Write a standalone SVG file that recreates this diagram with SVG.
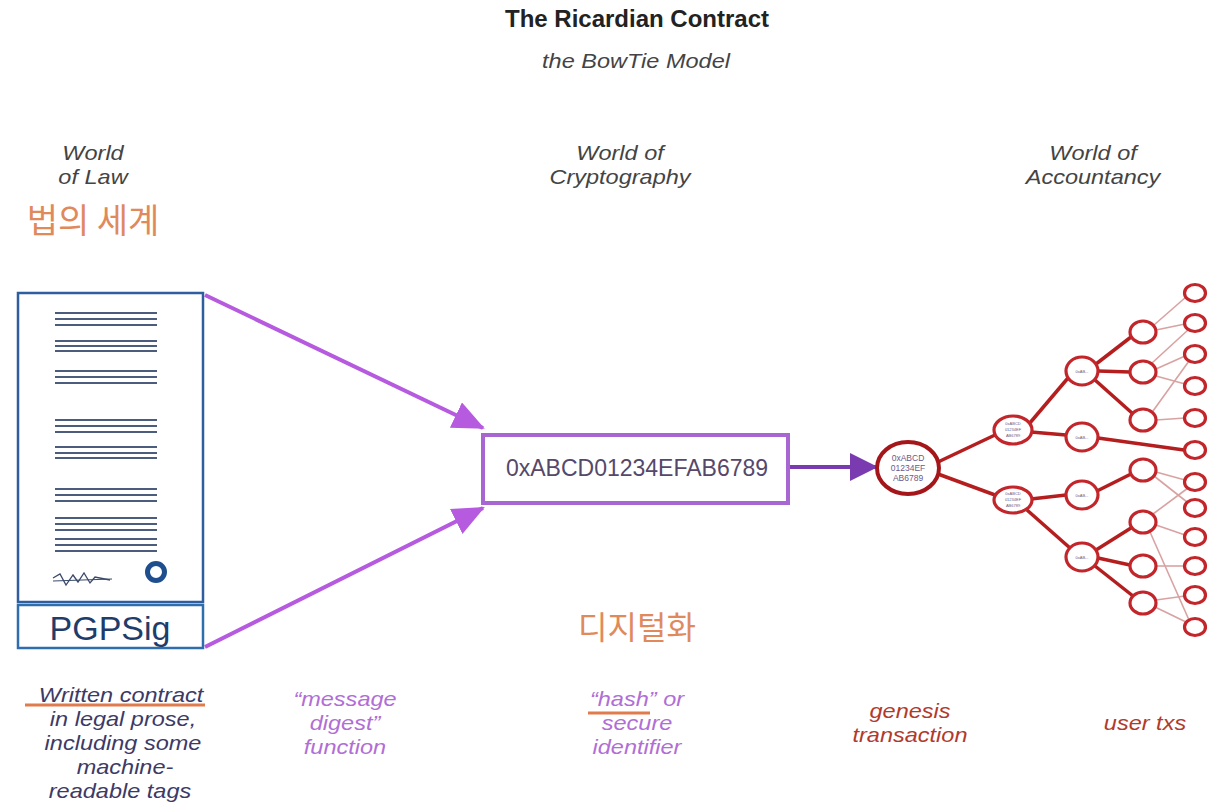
<svg xmlns="http://www.w3.org/2000/svg" width="1228" height="812" viewBox="0 0 1228 812">
<defs>
<marker id="ahV" markerWidth="8" markerHeight="7" refX="7.5" refY="3.5" orient="auto" markerUnits="strokeWidth">
<path d="M0,0 L8,3.5 L0,7 Z" fill="#B65AE0"/>
</marker>
<marker id="ahD" markerWidth="7" markerHeight="7" refX="6.5" refY="3.5" orient="auto" markerUnits="strokeWidth">
<path d="M0,0 L7,3.5 L0,7 Z" fill="#7A3AB0"/>
</marker>
</defs>
<style>
text{font-family:"Liberation Sans",Arial,"Noto Sans CJK KR",sans-serif;text-anchor:middle}
.it{font-style:italic;font-size:21px}
.hdr{fill:#444}
.law{fill:#3C3A66}
.pur{fill:#B06ED6}
.red{fill:#B23A2C}
.kor{font-family:"Noto Sans CJK KR",sans-serif;fill:#E08A5C;font-weight:400}
.docl{stroke:#4C5C7C;stroke-width:2}
.thick{stroke:#B41E1E;stroke-width:3.5;fill:none}
.thin{stroke:#D9A2A2;stroke-width:1.6;fill:none}
.nd{fill:#fff;stroke:#C2252A;stroke-width:3.2}
.tiny{font-size:4px;fill:#6A5A8A}
</style>
<rect width="1228" height="812" fill="#fff"/>

<g id="titles">
<text x="637" y="27" style="font-weight:bold;font-size:24px" fill="#222">The Ricardian Contract</text>
<text class="it" fill="#444" transform="translate(636,68) scale(1.12,1)">the BowTie Model</text>
</g>

<g id="headers">
<text class="it hdr" transform="translate(93,160) scale(1.12,1)">World</text>
<text class="it hdr" transform="translate(93,184) scale(1.12,1)">of Law</text>
<text class="it hdr" transform="translate(620,160) scale(1.12,1)">World of</text>
<text class="it hdr" transform="translate(620,184) scale(1.12,1)">Cryptography</text>
<text class="it hdr" transform="translate(1093,160) scale(1.12,1)">World of</text>
<text class="it hdr" transform="translate(1093,184) scale(1.12,1)">Accountancy</text>
</g>

<g id="annotations">
<text x="93" y="233" class="kor" font-size="34">법의 세계</text>
<text x="637" y="639" class="kor" font-size="32">디지털화</text>
<line x1="25" y1="705" x2="205" y2="705" stroke="#E07B4E" stroke-width="3"/>
<line x1="588" y1="713" x2="650" y2="713" stroke="#E07B4E" stroke-width="3"/>
</g>

<g id="contract">
<rect x="18" y="293" width="185" height="309" fill="#fff" stroke="#2E5E9E" stroke-width="2.5"/>
<g class="docl">
<line x1="55" y1="313" x2="157" y2="313"/><line x1="55" y1="319" x2="157" y2="319"/><line x1="55" y1="325" x2="157" y2="325"/>
<line x1="55" y1="341" x2="157" y2="341"/><line x1="55" y1="346" x2="157" y2="346"/><line x1="55" y1="351" x2="157" y2="351"/>
<line x1="55" y1="371" x2="157" y2="371"/><line x1="55" y1="377" x2="157" y2="377"/><line x1="55" y1="383" x2="157" y2="383"/>
<line x1="55" y1="420" x2="157" y2="420"/><line x1="55" y1="426" x2="157" y2="426"/><line x1="55" y1="432" x2="157" y2="432"/>
<line x1="55" y1="447" x2="157" y2="447"/><line x1="55" y1="453" x2="157" y2="453"/><line x1="55" y1="458" x2="157" y2="458"/>
<line x1="55" y1="489" x2="157" y2="489"/><line x1="55" y1="495" x2="157" y2="495"/><line x1="55" y1="501" x2="157" y2="501"/>
<line x1="55" y1="518" x2="157" y2="518"/><line x1="55" y1="524" x2="157" y2="524"/><line x1="55" y1="530" x2="157" y2="530"/>
<line x1="55" y1="539" x2="157" y2="539"/><line x1="55" y1="545" x2="157" y2="545"/><line x1="55" y1="551" x2="157" y2="551"/>
</g>
<path d="M53,578 L60,574 L66,585 L73,575 L78,582 L84,573 L90,583 L95,577 L110,580" fill="none" stroke="#3A4A6A" stroke-width="1.3"/>
<line x1="53" y1="581" x2="112" y2="579" stroke="#3A4A6A" stroke-width="1"/>
<circle cx="156" cy="572" r="8.5" fill="#fff" stroke="#1E4E8E" stroke-width="5"/>
</g>

<g id="pgpsig">
<rect x="18" y="605" width="185" height="43" fill="#fff" stroke="#2E6EAE" stroke-width="2.5"/>
<text x="110" y="640" font-size="34" fill="#1F3D6B">PGPSig</text>
</g>

<g id="hash">
<rect x="483" y="435" width="305" height="68" fill="#fff" stroke="#A866D2" stroke-width="4"/>
<text x="637" y="476" font-size="23" fill="#55486A">0xABCD01234EFAB6789</text>
</g>

<g id="connectors">
<line x1="205" y1="295" x2="483" y2="428" stroke="#B65AE0" stroke-width="4" marker-end="url(#ahV)"/>
<line x1="205" y1="647" x2="483" y2="508" stroke="#B65AE0" stroke-width="4" marker-end="url(#ahV)"/>
<line x1="790" y1="467" x2="876" y2="467" stroke="#7A3AB0" stroke-width="4" marker-end="url(#ahD)"/>
<g id="tree-edges">
<line class="thick" x1="938" y1="462" x2="995" y2="435"/>
<line class="thick" x1="938" y1="474" x2="995" y2="495"/>
<line class="thick" x1="1029" y1="424" x2="1068" y2="378"/>
<line class="thick" x1="1031" y1="432" x2="1066" y2="435"/>
<line class="thick" x1="1031" y1="499" x2="1066" y2="495"/>
<line class="thick" x1="1027" y1="510" x2="1070" y2="548"/>
<line class="thick" x1="1096" y1="364" x2="1131" y2="337"/>
<line class="thick" x1="1098" y1="371" x2="1130" y2="372"/>
<line class="thick" x1="1095" y1="380" x2="1132" y2="413"/>
<line class="thick" x1="1098" y1="438" x2="1184" y2="450"/>
<line class="thick" x1="1097" y1="491" x2="1131" y2="474"/>
<line class="thick" x1="1096" y1="550" x2="1131" y2="528"/>
<line class="thick" x1="1098" y1="558" x2="1130" y2="565"/>
<line class="thick" x1="1095" y1="566" x2="1133" y2="596"/>
<line class="thin" x1="1154" y1="325" x2="1186" y2="297"/>
<line class="thin" x1="1156" y1="330" x2="1185" y2="324"/>
<line class="thin" x1="1152" y1="363" x2="1188" y2="330"/>
<line class="thin" x1="1156" y1="369" x2="1185" y2="356"/>
<line class="thin" x1="1156" y1="376" x2="1185" y2="384"/>
<line class="thin" x1="1153" y1="411" x2="1189" y2="361"/>
<line class="thin" x1="1156" y1="420" x2="1185" y2="418"/>
<line class="thin" x1="1156" y1="472" x2="1185" y2="480"/>
<line class="thin" x1="1154" y1="476" x2="1187" y2="502"/>
<line class="thin" x1="1153" y1="514" x2="1188" y2="488"/>
<line class="thin" x1="1156" y1="525" x2="1185" y2="535"/>
<line class="thin" x1="1150" y1="532" x2="1189" y2="620"/>
<line class="thin" x1="1156" y1="566" x2="1185" y2="566"/>
<line class="thin" x1="1156" y1="600" x2="1185" y2="596"/>
<line class="thin" x1="1155" y1="607" x2="1186" y2="622"/>
</g>
</g>

<g id="genesis">
<ellipse cx="908" cy="468" rx="31" ry="26" fill="#fff" stroke="#A5161B" stroke-width="4"/>
<text x="908" y="461" font-size="8.5" fill="#6A5A8A">0xABCD</text>
<text x="908" y="471" font-size="8.5" fill="#6A5A8A">01234EF</text>
<text x="908" y="481" font-size="8.5" fill="#6A5A8A">AB6789</text>
</g>

<g id="tx-level2">
<ellipse class="nd" cx="1013" cy="430" rx="19" ry="14"/>
<text class="tiny" x="1013" y="425">0xABCD</text><text class="tiny" x="1013" y="431">01234EF</text><text class="tiny" x="1013" y="437">AB6789</text>
<ellipse class="nd" cx="1013" cy="500" rx="19" ry="13"/>
<text class="tiny" x="1013" y="495">0xABCD</text><text class="tiny" x="1013" y="501">01234EF</text><text class="tiny" x="1013" y="507">AB6789</text>
</g>

<g id="tx-level3">
<ellipse class="nd" cx="1082" cy="371" rx="16" ry="14"/><text class="tiny" x="1082" y="373">0xAB...</text>
<ellipse class="nd" cx="1082" cy="437" rx="16" ry="14"/><text class="tiny" x="1082" y="439">0xAB...</text>
<ellipse class="nd" cx="1082" cy="495" rx="16" ry="14"/><text class="tiny" x="1082" y="497">0xAB...</text>
<ellipse class="nd" cx="1082" cy="557" rx="16" ry="14"/><text class="tiny" x="1082" y="559">0xAB...</text>
</g>

<g id="tx-level4">
<ellipse class="nd" cx="1143" cy="332" rx="13" ry="11"/>
<ellipse class="nd" cx="1143" cy="372" rx="13" ry="11"/>
<ellipse class="nd" cx="1143" cy="420" rx="13" ry="11"/>
<ellipse class="nd" cx="1143" cy="470" rx="13" ry="11"/>
<ellipse class="nd" cx="1143" cy="522" rx="13" ry="11"/>
<ellipse class="nd" cx="1143" cy="566" rx="13" ry="11"/>
<ellipse class="nd" cx="1143" cy="603" rx="13" ry="11"/>
</g>

<g id="tx-leaves">
<ellipse class="nd" cx="1195" cy="293" rx="10.5" ry="8.5"/>
<ellipse class="nd" cx="1195" cy="323" rx="10.5" ry="8.5"/>
<ellipse class="nd" cx="1195" cy="354" rx="10.5" ry="8.5"/>
<ellipse class="nd" cx="1195" cy="386" rx="10.5" ry="8.5"/>
<ellipse class="nd" cx="1195" cy="418" rx="10.5" ry="8.5"/>
<ellipse class="nd" cx="1195" cy="450" rx="10.5" ry="8.5"/>
<ellipse class="nd" cx="1195" cy="482" rx="10.5" ry="8.5"/>
<ellipse class="nd" cx="1195" cy="508" rx="10.5" ry="8.5"/>
<ellipse class="nd" cx="1195" cy="537" rx="10.5" ry="8.5"/>
<ellipse class="nd" cx="1195" cy="566" rx="10.5" ry="8.5"/>
<ellipse class="nd" cx="1195" cy="595" rx="10.5" ry="8.5"/>
<ellipse class="nd" cx="1195" cy="627" rx="10.5" ry="8.5"/>
</g>

<g id="labels">
<text class="it law" transform="translate(121,702) scale(1.12,1)">Written contract</text>
<text class="it law" transform="translate(123,726) scale(1.12,1)">in legal prose,</text>
<text class="it law" transform="translate(123,750) scale(1.12,1)">including some</text>
<text class="it law" transform="translate(125,774) scale(1.12,1)">machine-</text>
<text class="it law" transform="translate(120,798) scale(1.12,1)">readable tags</text>
<text class="it pur" transform="translate(345,706) scale(1.12,1)">“message</text>
<text class="it pur" transform="translate(345,730) scale(1.12,1)">digest”</text>
<text class="it pur" transform="translate(345,754) scale(1.12,1)">function</text>
<text class="it pur" transform="translate(637,706) scale(1.12,1)">“hash” or</text>
<text class="it pur" transform="translate(637,730) scale(1.12,1)">secure</text>
<text class="it pur" transform="translate(637,754) scale(1.12,1)">identifier</text>
<text class="it red" transform="translate(910,718) scale(1.12,1)">genesis</text>
<text class="it red" transform="translate(910,742) scale(1.12,1)">transaction</text>
<text class="it red" transform="translate(1145,730) scale(1.12,1)">user txs</text>
</g>
</svg>
